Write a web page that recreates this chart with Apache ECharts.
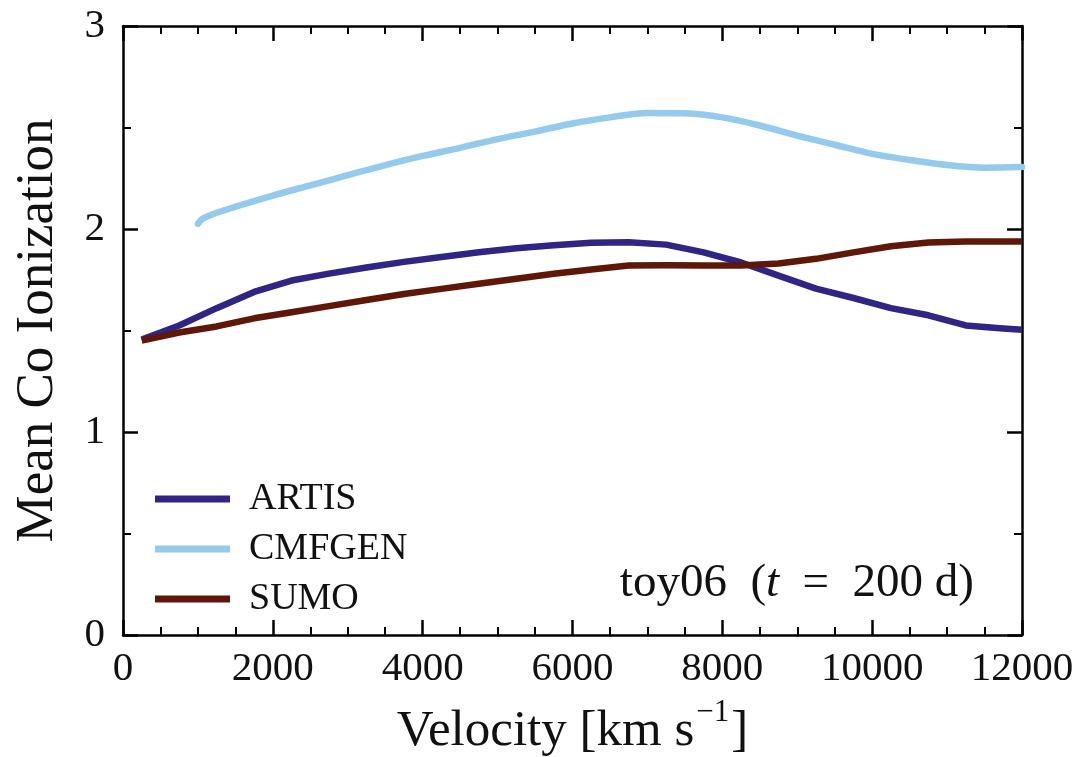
<!DOCTYPE html>
<html>
<head>
<meta charset="utf-8">
<script src="https://cdn.jsdelivr.net/npm/echarts@6/dist/echarts.min.js"></script>
<style>html,body{margin:0;padding:0;background:#fff;}#c{width:1082px;height:757px;}</style>
</head>
<body>
<div id="c"></div>
<script>
const artisVel = [250,750,1250,1750,2250,2750,3250,3750,4250,4750,5250,5750,6250,6750,7250,7750,8250,8750,9250,9750,10250,10750,11250,11750,12000];
const artisVal = [1.456,1.525,1.61,1.69,1.746,1.78,1.81,1.838,1.862,1.885,1.905,1.92,1.932,1.935,1.923,1.885,1.835,1.77,1.706,1.66,1.61,1.575,1.525,1.51,1.504];

const sumoVel = [250,750,1250,1750,2250,2750,3250,3750,4250,4750,5250,5750,6250,6750,7250,7750,8250,8750,9250,9750,10250,10750,11250,11750,12000];
const sumoVal = [1.45,1.49,1.52,1.56,1.59,1.62,1.65,1.68,1.705,1.73,1.755,1.78,1.80,1.82,1.822,1.82,1.82,1.83,1.853,1.885,1.915,1.933,1.938,1.938,1.938];

const cmfgenVel = [1000,1060,1250,1500,2000,2500,3000,3500,4000,4500,5000,5500,6000,6500,7000,7500,8000,8500,9000,9500,10000,10500,11000,11500,12000];
const cmfgenVal = [2.025,2.05,2.08,2.11,2.165,2.215,2.265,2.315,2.36,2.40,2.443,2.48,2.52,2.55,2.572,2.57,2.55,2.51,2.46,2.415,2.37,2.34,2.315,2.302,2.305];

const xTicks = [0,2000,4000,6000,8000,10000,12000];
const yTicks = [0,1,2,3];
const seriesNames = ['ARTIS','CMFGEN','SUMO'];

const FONT = 'Liberation Serif';
const zip = (a,b) => a.map((v,i)=>[v,b[i]]);

const chart = echarts.init(document.getElementById('c'), null, {renderer:'canvas'});

const axisCommon = {
  axisLine:{show:true, onZero:false, lineStyle:{color:'#000', width:2.5}},
  axisTick:{show:true, inside:true, length:15, lineStyle:{color:'#000', width:2.5}},
  minorTick:{show:true, length:8, lineStyle:{color:'#000', width:2}},
  splitLine:{show:false},
  minorSplitLine:{show:false}
};

const option = {
  backgroundColor:'#fff',
  animation:false,
  grid:{left:123, right:60, top:26, bottom:122, containLabel:false, outerBoundsMode:'none'},
  xAxis:[
    Object.assign({}, axisCommon, {
      type:'value', min:0, max:12000, interval:2000, position:'bottom',
      minorTick:Object.assign({}, axisCommon.minorTick, {splitNumber:4}),
      axisLabel:{show:true, margin:14, color:'#111', fontFamily:FONT, fontSize:41,
        formatter:v=> xTicks.includes(v) ? String(v) : ''},
      name:'{a|Velocity [km s}{b|−1}{a|]}',
      nameLocation:'middle', nameGap:62,
      nameTextStyle:{color:'#111', rich:{
        a:{fontFamily:FONT, fontSize:51, color:'#111', lineHeight:60, verticalAlign:'bottom'},
        b:{fontFamily:FONT, fontSize:31, color:'#111', lineHeight:60, verticalAlign:'top', padding:[0,2,0,2]}
      }}
    }),
    Object.assign({}, axisCommon, {
      type:'value', min:0, max:12000, interval:2000, position:'top',
      minorTick:Object.assign({}, axisCommon.minorTick, {splitNumber:4}),
      axisLabel:{show:false}
    })
  ],
  yAxis:[
    Object.assign({}, axisCommon, {
      type:'value', min:0, max:3, interval:1, position:'left',
      minorTick:Object.assign({}, axisCommon.minorTick, {splitNumber:2}),
      axisLabel:{show:true, margin:18, color:'#111', fontFamily:FONT, fontSize:41,
        formatter:v=> yTicks.includes(v) ? String(v) : ''},
      name:'Mean Co Ionization', nameLocation:'middle', nameGap:58, nameRotate:90,
      nameTextStyle:{fontFamily:FONT, fontSize:53, color:'#111'}
    }),
    Object.assign({}, axisCommon, {
      type:'value', min:0, max:3, interval:1, position:'right',
      minorTick:Object.assign({}, axisCommon.minorTick, {splitNumber:2}),
      axisLabel:{show:false}
    })
  ],
  legend:{
    orient:'vertical', left:150, top:475, itemGap:12,
    itemWidth:75, itemHeight:7, icon:'rect',
    data:seriesNames,
    textStyle:{fontFamily:FONT, fontSize:38, color:'#111', padding:[0,0,0,14], lineHeight:35}
  },
  graphic:[{
    type:'text', right:108, top:560,
    style:{
      text:'{a|toy06  (}{b|t}{a|  =  200 d)}',
      rich:{
        a:{fontFamily:FONT, fontSize:47, fill:'#111'},
        b:{fontFamily:FONT, fontSize:47, fontStyle:'italic', fill:'#111'}
      }
    }
  }],
  series:[
    {name:'ARTIS', type:'line', data:zip(artisVel,artisVal), showSymbol:false, symbol:'none',
      lineStyle:{color:'#2e2585', width:6.5, join:'round'}, itemStyle:{color:'#2e2585'}, z:2},
    {name:'CMFGEN', type:'line', data:zip(cmfgenVel,cmfgenVal), showSymbol:false, symbol:'none', smooth:0.3,
      lineStyle:{color:'#94cbec', width:6.5, cap:'round', join:'round'}, itemStyle:{color:'#94cbec'}, z:3},
    {name:'SUMO', type:'line', data:zip(sumoVel,sumoVal), showSymbol:false, symbol:'none',
      lineStyle:{color:'#5e1708', width:6.5, join:'round'}, itemStyle:{color:'#5e1708'}, z:4}
  ]
};
chart.setOption(option);
</script>
</body>
</html>
